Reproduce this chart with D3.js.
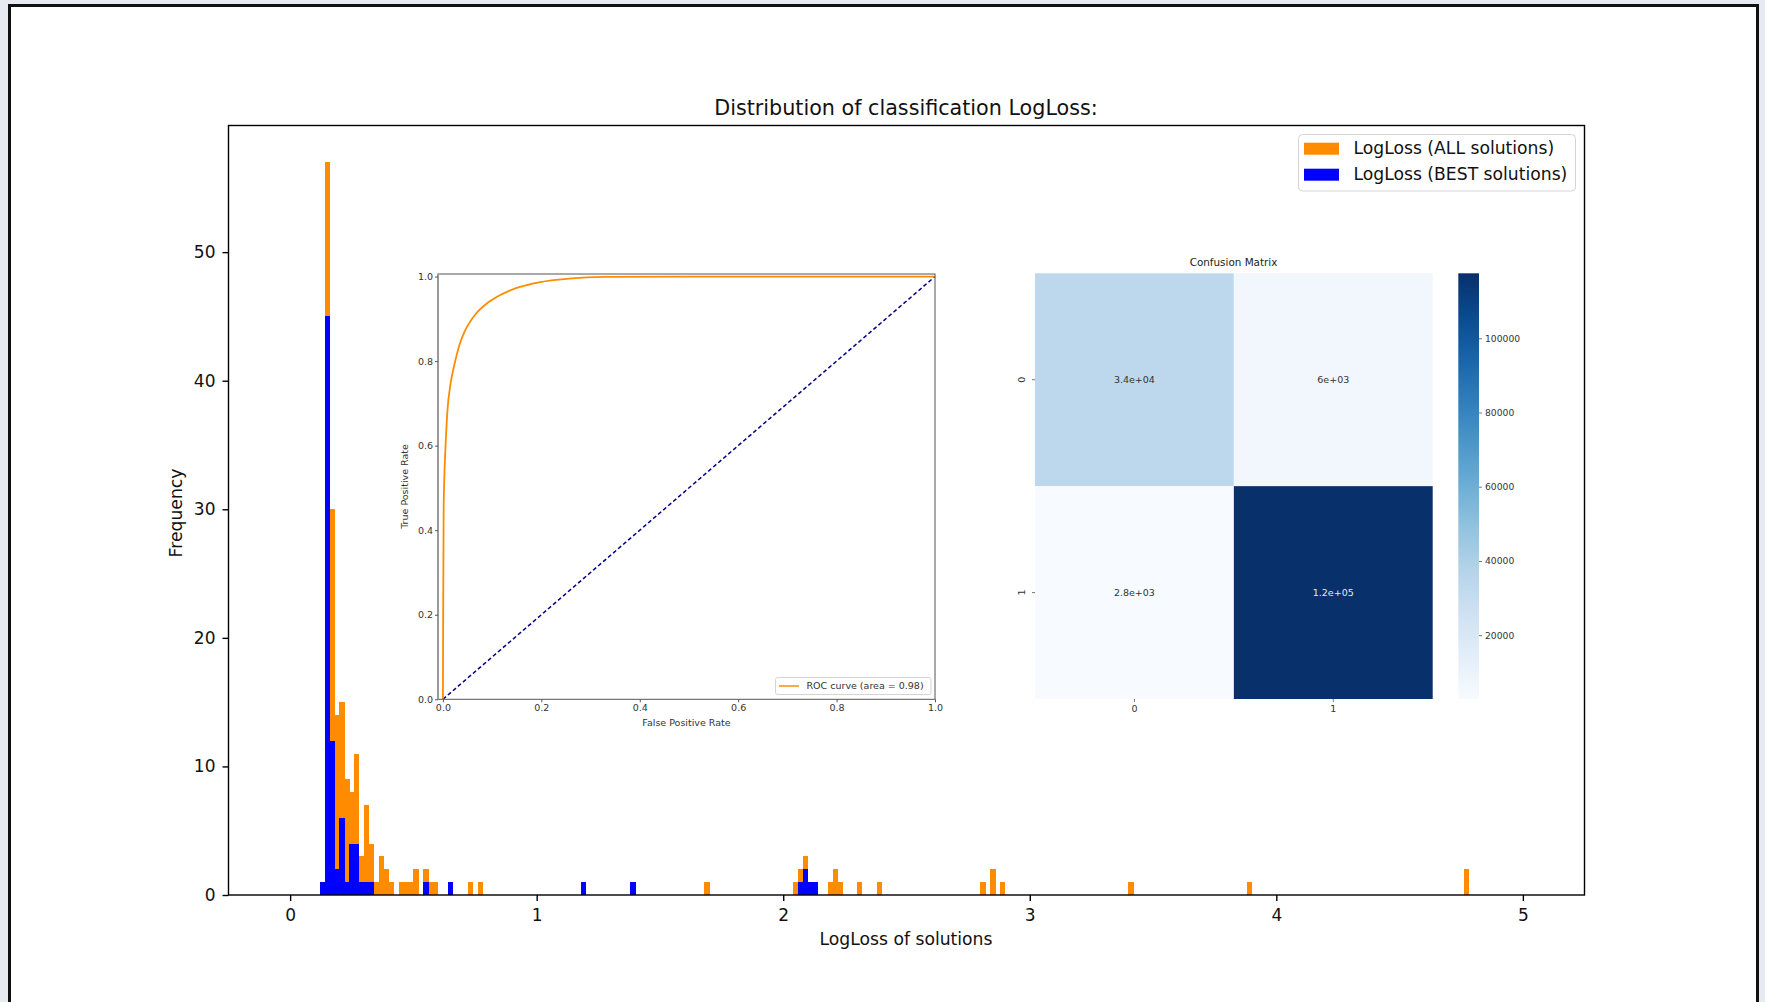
<!DOCTYPE html>
<html>
<head>
<meta charset="utf-8">
<script src="https://cdn.jsdelivr.net/npm/d3@7"></script>
<style>
  body { margin: 0; background: #e7ebf1; }
  svg { display: block; font-family: "DejaVu Sans", sans-serif; }
</style>
</head>
<body>
<svg id="chart" width="1765" height="1002"></svg>
<script>
// ---------------- data ----------------
// histogram bins: left edge of each 0.02 wide bin and its count
var binWidth = 0.02;
var allEdges  = [0.12, 0.14, 0.16, 0.18, 0.20, 0.22, 0.24, 0.26, 0.28, 0.30, 0.32, 0.34, 0.36, 0.38, 0.40,
                 0.44, 0.46, 0.48, 0.50, 0.54, 0.56, 0.58, 0.64, 0.72, 0.76, 1.18, 1.38, 1.68,
                 2.04, 2.06, 2.08, 2.10, 2.12, 2.18, 2.20, 2.22, 2.30, 2.38, 2.80, 2.84, 2.88, 3.40, 3.88, 4.76];
var allCounts = [1, 57, 30, 14, 15, 9, 8, 11, 3, 7, 4, 1, 3, 2, 1,
                 1, 1, 1, 2, 2, 1, 1, 1, 1, 1, 1, 1, 1,
                 1, 2, 3, 1, 1, 1, 2, 1, 1, 1, 1, 2, 1, 1, 1, 2];
var bestEdges  = [0.12, 0.14, 0.16, 0.18, 0.20, 0.22, 0.24, 0.26, 0.28, 0.30, 0.32, 0.54, 0.64, 1.18, 1.38, 2.06, 2.08, 2.10, 2.12];
var bestCounts = [1, 45, 12, 2, 6, 1, 4, 4, 1, 1, 1, 1, 1, 1, 1, 1, 2, 1, 1];
var xTicks = [0, 1, 2, 3, 4, 5];
var yTicks = [0, 10, 20, 30, 40, 50];
var seriesNames = ["LogLoss (ALL solutions)", "LogLoss (BEST solutions)"];

// ROC inset
var rocFpr = [0, 0.0005, 0.0015, 0.003, 0.005, 0.009, 0.016, 0.023, 0.034, 0.045, 0.067, 0.089, 0.11, 0.147, 0.198, 0.256, 0.33, 0.5, 1.0];
var rocTpr = [0, 0.2, 0.45, 0.53, 0.59, 0.68, 0.75, 0.79, 0.84, 0.872, 0.912, 0.936, 0.952, 0.972, 0.987, 0.995, 0.999, 1.0, 1.0];
var rocTicks = [0, 0.2, 0.4, 0.6, 0.8, 1.0];

// confusion matrix inset
var cmClasses = ["0", "1"];
var cmValues = [[34000, 6000], [2800, 117500]];
var cbTicks = [20000, 40000, 60000, 80000, 100000];

// ---------------- page ----------------
var svg = d3.select("#chart");

// screenshot frame
svg.append("rect")
    .attr("x", 9.5).attr("y", 5.5)
    .attr("width", 1748).attr("height", 1010)
    .attr("fill", "white")
    .attr("stroke", "#111")
    .attr("stroke-width", 3);

// ---------------- main histogram ----------------
var x = d3.scaleLinear().domain([-0.25, 5.25]).range([228.5, 1584.5]);
var y = d3.scaleLinear().domain([0, 59.85]).range([895, 125.5]);

var allData = allEdges.map(function (e, i) { return { e: e, c: allCounts[i] }; });
var bestData = bestEdges.map(function (e, i) { return { e: e, c: bestCounts[i] }; });

function drawBars(data, color) {
    svg.append("g")
        .attr("shape-rendering", "crispEdges")
        .selectAll("rect")
        .data(data)
        .enter()
        .append("rect")
        .attr("x", function (d) { return x(d.e); })
        .attr("width", function (d) { return x(d.e + binWidth) - x(d.e) + 0.3; })
        .attr("y", function (d) { return y(d.c); })
        .attr("height", function (d) { return y(0) - y(d.c); })
        .attr("fill", color);
}
drawBars(allData, "#ff8c00");
drawBars(bestData, "#0000ff");

// axes
var xAxis = svg.append("g")
    .attr("transform", "translate(0,895)")
    .call(d3.axisBottom(x).tickValues(xTicks).tickFormat(d3.format("d")).tickSize(6).tickPadding(8));
var yAxis = svg.append("g")
    .attr("transform", "translate(228.5,0)")
    .call(d3.axisLeft(y).tickValues(yTicks).tickFormat(d3.format("d")).tickSize(6).tickPadding(7));
[xAxis, yAxis].forEach(function (a) {
    a.select(".domain").remove();
    a.selectAll("line").attr("stroke", "#000").attr("stroke-width", 1.4);
    a.selectAll("text").attr("font-size", 17).attr("fill", "#111").attr("font-family", "DejaVu Sans");
});

svg.append("rect")
    .attr("x", 228.5).attr("y", 125.5)
    .attr("width", 1356).attr("height", 769.5)
    .attr("fill", "none")
    .attr("stroke", "#000")
    .attr("stroke-width", 1.4);

svg.append("text")
    .attr("x", 906).attr("y", 114.5)
    .attr("text-anchor", "middle")
    .attr("font-size", 20.7)
    .attr("fill", "#111")
    .text("Distribution of classification LogLoss:");

svg.append("text")
    .attr("x", 906).attr("y", 945)
    .attr("text-anchor", "middle")
    .attr("font-size", 17.2)
    .attr("fill", "#111")
    .text("LogLoss of solutions");

svg.append("text")
    .attr("transform", "translate(182,513) rotate(-90)")
    .attr("text-anchor", "middle")
    .attr("font-size", 17.2)
    .attr("fill", "#111")
    .text("Frequency");

// legend
var legend = svg.append("g");
legend.append("rect")
    .attr("x", 1298.5).attr("y", 134.5)
    .attr("width", 277).attr("height", 56.5)
    .attr("rx", 4)
    .attr("fill", "white")
    .attr("stroke", "#d4d4d4");
["#ff8c00", "#0000ff"].forEach(function (c, i) {
    legend.append("rect")
        .attr("x", 1304).attr("y", 142.7 + i * 26)
        .attr("width", 35).attr("height", 12)
        .attr("fill", c);
    legend.append("text")
        .attr("x", 1353.5).attr("y", 154 + i * 26)
        .attr("font-size", 17.2)
        .attr("fill", "#111")
        .text(seriesNames[i]);
});

// ---------------- ROC inset ----------------
var roc = svg.append("g");
var rx = d3.scaleLinear().domain([-0.01, 1.0]).range([438, 935]);
var ry = d3.scaleLinear().domain([0, 1.006]).range([699.3, 274]);

roc.append("rect")
    .attr("x", 438).attr("y", 274)
    .attr("width", 497).attr("height", 425.3)
    .attr("fill", "white");

roc.append("line")
    .attr("x1", rx(0)).attr("y1", ry(0))
    .attr("x2", rx(1)).attr("y2", ry(1))
    .attr("stroke", "#000080")
    .attr("stroke-width", 1.5)
    .attr("stroke-dasharray", "4,2.6");

var rocPts = rocFpr.map(function (f, i) { return [rx(f), ry(rocTpr[i])]; });
roc.append("path")
    .attr("d", d3.line().curve(d3.curveMonotoneX)(rocPts))
    .attr("fill", "none")
    .attr("stroke", "#ff8c00")
    .attr("stroke-width", 1.8);

roc.append("rect")
    .attr("x", 438).attr("y", 274)
    .attr("width", 497).attr("height", 425.3)
    .attr("fill", "none")
    .attr("stroke", "#555")
    .attr("stroke-width", 1);
roc.append("line")
    .attr("x1", 438).attr("x2", 438).attr("y1", 274).attr("y2", 699.3)
    .attr("stroke", "#999").attr("stroke-width", 2);

var rocX = roc.append("g")
    .attr("transform", "translate(0,699.3)")
    .call(d3.axisBottom(rx).tickValues(rocTicks).tickFormat(d3.format(".1f")).tickSize(3).tickPadding(2));
var rocY = roc.append("g")
    .attr("transform", "translate(438,0)")
    .call(d3.axisLeft(ry).tickValues(rocTicks).tickFormat(d3.format(".1f")).tickSize(3).tickPadding(2));
[rocX, rocY].forEach(function (a) {
    a.select(".domain").remove();
    a.selectAll("line").attr("stroke", "#555");
    a.selectAll("text").attr("font-size", 9.5).attr("fill", "#333").attr("font-family", "DejaVu Sans");
});

roc.append("text")
    .attr("x", 686.5).attr("y", 726)
    .attr("text-anchor", "middle")
    .attr("font-size", 9.5)
    .attr("fill", "#333")
    .text("False Positive Rate");
roc.append("text")
    .attr("transform", "translate(408,486.5) rotate(-90)")
    .attr("text-anchor", "middle")
    .attr("font-size", 9.5)
    .attr("fill", "#333")
    .text("True Positive Rate");

// ROC legend
roc.append("rect")
    .attr("x", 775.5).attr("y", 677.5)
    .attr("width", 155.5).attr("height", 17)
    .attr("rx", 2)
    .attr("fill", "white")
    .attr("stroke", "#d4d4d4");
roc.append("line")
    .attr("x1", 779).attr("x2", 799).attr("y1", 686).attr("y2", 686)
    .attr("stroke", "#ff8c00").attr("stroke-width", 1.5);
roc.append("text")
    .attr("x", 806.5).attr("y", 689.3)
    .attr("font-size", 9.5)
    .attr("fill", "#333")
    .text("ROC curve (area = 0.98)");

// ---------------- confusion matrix inset ----------------
var cm = svg.append("g");
var cx = d3.scaleBand().domain(cmClasses).range([1035, 1432.7]);
var cy = d3.scaleBand().domain(cmClasses).range([273.3, 699]);
var allCm = [].concat(cmValues[0], cmValues[1]);
var cmin = d3.min(allCm), cmax = d3.max(allCm);
var color = d3.scaleSequential(d3.interpolateBlues).domain([cmin, cmax]);

function fmt2g(v) {
    var parts = v.toExponential(1).split("e");
    var m = parts[0].replace(/\.0$/, "");
    var ex = parseInt(parts[1], 10);
    return m + "e" + (ex < 0 ? "-" : "+") + String(Math.abs(ex)).padStart(2, "0");
}

var cells = [];
cmValues.forEach(function (row, i) {
    row.forEach(function (v, j) { cells.push({ r: cmClasses[i], c: cmClasses[j], v: v }); });
});

cm.selectAll(".cell")
    .data(cells)
    .enter()
    .append("rect")
    .attr("x", function (d) { return cx(d.c); })
    .attr("y", function (d) { return cy(d.r); })
    .attr("width", cx.bandwidth())
    .attr("height", cy.bandwidth())
    .attr("fill", function (d) { return color(d.v); });

cm.selectAll(".annot")
    .data(cells)
    .enter()
    .append("text")
    .attr("x", function (d) { return cx(d.c) + cx.bandwidth() / 2; })
    .attr("y", function (d) { return cy(d.r) + cy.bandwidth() / 2 + 3; })
    .attr("text-anchor", "middle")
    .attr("font-size", 9.5)
    .attr("fill", function (d) { return (d.v - cmin) / (cmax - cmin) > 0.6 ? "#e8e8e8" : "#333"; })
    .text(function (d) { return fmt2g(d.v); });

cm.append("text")
    .attr("x", 1233.5).attr("y", 266.3)
    .attr("text-anchor", "middle")
    .attr("font-size", 10.4)
    .attr("fill", "#222")
    .text("Confusion Matrix");

var cmX = cm.append("g")
    .attr("transform", "translate(0,699)")
    .call(d3.axisBottom(cx).tickSize(3).tickPadding(3));
var cmY = cm.append("g")
    .attr("transform", "translate(1035,0)")
    .call(d3.axisLeft(cy).tickSize(3).tickPadding(3));
cmY.selectAll("text")
    .attr("transform", "rotate(-90)")
    .attr("x", 0).attr("dx", 0)
    .attr("y", -10).attr("dy", 0)
    .attr("text-anchor", "middle");
[cmX, cmY].forEach(function (a) {
    a.select(".domain").remove();
    a.selectAll("line").attr("stroke", "#777");
    a.selectAll("text").attr("font-size", 9.5).attr("fill", "#333").attr("font-family", "DejaVu Sans");
});

// colorbar
var defs = svg.append("defs");
var grad = defs.append("linearGradient")
    .attr("id", "cbgrad")
    .attr("x1", 0).attr("y1", 1).attr("x2", 0).attr("y2", 0);
d3.range(0, 1.0001, 0.1).forEach(function (t) {
    grad.append("stop")
        .attr("offset", t)
        .attr("stop-color", d3.interpolateBlues(t));
});
cm.append("rect")
    .attr("x", 1458.3).attr("y", 273.3)
    .attr("width", 20.7).attr("height", 425.7)
    .attr("fill", "url(#cbgrad)");
var cb = d3.scaleLinear().domain([cmin, cmax]).range([699, 273.3]);
var cbAxis = cm.append("g")
    .attr("transform", "translate(1479,0)")
    .call(d3.axisRight(cb).tickValues(cbTicks).tickFormat(d3.format("d")).tickSize(3).tickPadding(3));
cbAxis.select(".domain").remove();
cbAxis.selectAll("line").attr("stroke", "#777");
cbAxis.selectAll("text").attr("font-size", 9.2).attr("fill", "#333").attr("font-family", "DejaVu Sans");
</script>
</body>
</html>
